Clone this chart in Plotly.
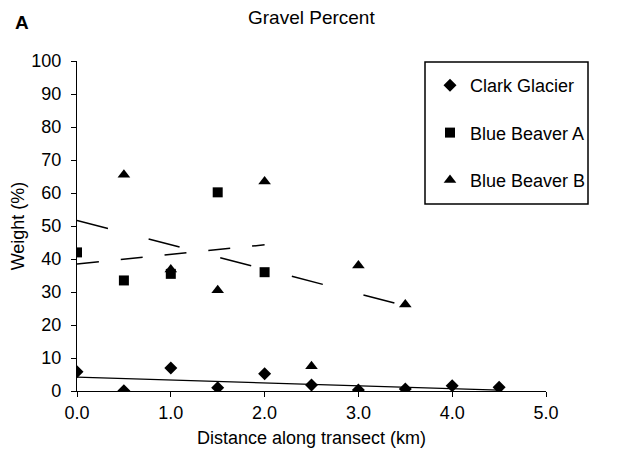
import plotly.graph_objects as go
import numpy as np

# Data
clark_x = [0.0, 0.5, 1.0, 1.5, 2.0, 2.5, 3.0, 3.5, 4.0, 4.5]
clark_y = [5.8, 0.1, 7.0, 1.0, 5.2, 1.8, 0.3, 0.6, 1.6, 1.1]

bba_x = [0.0, 0.5, 1.0, 1.5, 2.0]
bba_y = [42.0, 33.5, 35.5, 60.2, 36.0]

bbb_x = [0.5, 1.0, 1.5, 2.0, 2.5, 3.0, 3.5]
bbb_y = [65.5, 36.8, 30.5, 63.5, 7.5, 38.0, 26.2]

# Trendline coefficients (intercept, slope) and x-range
clark_trend = (4.2, -0.87)
clark_trend_x = [0.0, 4.5]
bba_trend = (38.5, 2.9)
bba_trend_x = [0.0, 2.0]
bbb_trend = (51.7, -7.4)
bbb_trend_x = [0.0, 3.5]

x_ticks = [0, 1, 2, 3, 4, 5]
x_tick_labels = ["0.0", "1.0", "2.0", "3.0", "4.0", "5.0"]
y_ticks = list(range(0, 101, 10))

FONT = "Liberation Sans, Arial, sans-serif"
FS = 18

def trend(coef, xr):
    xs = np.array(xr, dtype=float)
    return xs, coef[0] + coef[1] * xs

fig = go.Figure()

tx, ty = trend(clark_trend, clark_trend_x)
fig.add_trace(go.Scatter(x=tx, y=ty, mode="lines", showlegend=False,
                         line=dict(color="black", width=1.3)))
tx, ty = trend(bba_trend, bba_trend_x)
fig.add_trace(go.Scatter(x=tx, y=ty, mode="lines", showlegend=False,
                         line=dict(color="black", width=1.5, dash="22px,22px")))
tx, ty = trend(bbb_trend, bbb_trend_x)
fig.add_trace(go.Scatter(x=tx, y=ty, mode="lines", showlegend=False,
                         line=dict(color="black", width=1.5, dash="32px,42px")))

fig.add_trace(go.Scatter(x=clark_x, y=clark_y, mode="markers", name="Clark Glacier",
                         legendgroup="a",
                         marker=dict(symbol="diamond", size=10, color="black")))
fig.add_trace(go.Scatter(x=bba_x, y=bba_y, mode="markers", name="Blue Beaver A",
                         legendgroup="b",
                         marker=dict(symbol="square", size=10, color="black")))
fig.add_trace(go.Scatter(x=bbb_x, y=bbb_y, mode="markers", name="Blue Beaver B",
                         legendgroup="c",
                         marker=dict(symbol="triangle-up", size=11, color="black")))

W, H = 621, 457
L, R, T, B = 77, 75, 61, 66
pw, ph = W - L - R, H - T - B

def px(x):
    return (x - L) / pw
def py(y):
    return 1 - (y - T) / ph

fig.update_layout(
    width=W, height=H,
    margin=dict(l=L, r=R, t=T, b=B),
    paper_bgcolor="white", plot_bgcolor="white",
    font=dict(family=FONT, size=FS, color="black"),
    showlegend=True,
    legend=dict(x=px(430), y=py(67), xanchor="left", yanchor="top",
                bgcolor="rgba(0,0,0,0)", borderwidth=0,
                font=dict(size=FS, family=FONT),
                tracegroupgap=21, itemwidth=30),
    xaxis=dict(range=[0, 5], tickvals=x_ticks, ticktext=x_tick_labels,
               showgrid=False, zeroline=False, showline=True, linecolor="black",
               linewidth=1.3, ticks="outside", ticklen=5, tickcolor="black",
               tickfont=dict(size=FS),
               title=dict(text="Distance along transect (km)", font=dict(size=FS), standoff=9)),
    yaxis=dict(range=[0, 100], tickvals=y_ticks,
               showgrid=False, zeroline=False, showline=True, linecolor="black",
               linewidth=1.3, ticks="outside", ticklen=5, tickcolor="black",
               ticklabelstandoff=6,
               tickfont=dict(size=FS),
               title=dict(text="Weight (%)", font=dict(size=FS), standoff=1)),
    shapes=[dict(type="rect", xref="paper", yref="paper",
                 x0=px(425), x1=px(588), y0=py(204), y1=py(62),
                 line=dict(color="black", width=1.5))],
    annotations=[
        dict(text="Gravel Percent", x=px(311), y=py(18), xref="paper", yref="paper",
             xanchor="center", yanchor="middle", showarrow=False,
             font=dict(size=19)),
        dict(text="<b>A</b>", x=px(13), y=py(22), xref="paper", yref="paper",
             xanchor="left", yanchor="middle", showarrow=False,
             font=dict(size=19)),
    ],
)

fig.write_html("out.html")
